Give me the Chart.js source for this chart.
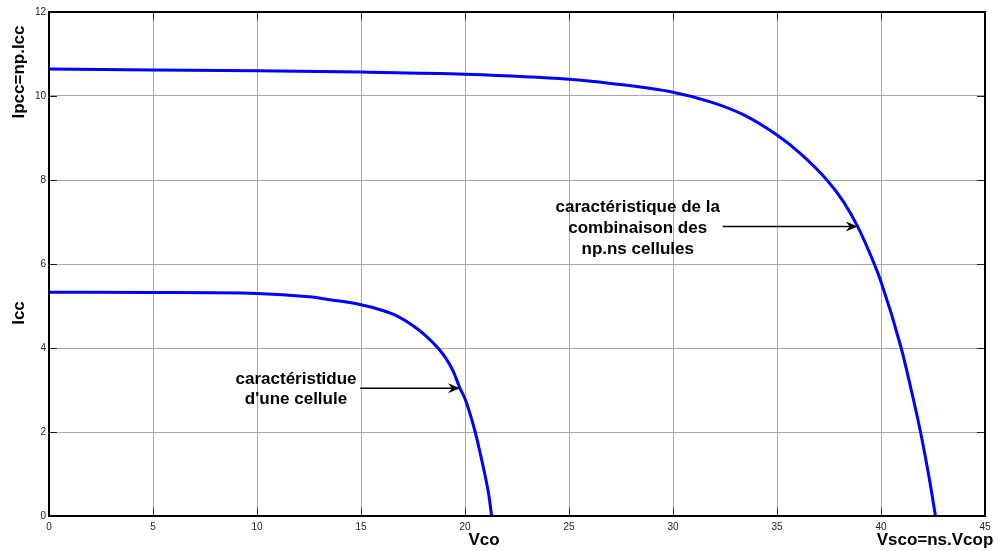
<!DOCTYPE html>
<html>
<head>
<meta charset="utf-8">
<script src="https://cdn.jsdelivr.net/npm/chart.js@4/dist/chart.umd.min.js"></script>
<style>
  html, body { margin: 0; padding: 0; background: #fff; }
  #wrap { width: 999px; height: 551px; }
</style>
</head>
<body>
<div id="wrap"><canvas id="ivChart" width="999" height="551"></canvas></div>
<script>
// I-V characteristic of a single cell
var cellV = [0, 5, 10, 12.5, 13.5, 15, 16, 16.7, 17.5, 18.05, 18.7, 19.1, 19.44, 19.76, 20.0, 20.49, 20.75, 20.95, 21.15, 21.28];
var cellI = [5.33, 5.32, 5.30, 5.22, 5.15, 5.03, 4.90, 4.77, 4.53, 4.32, 4.0, 3.74, 3.44, 3.04, 2.79, 2.0, 1.45, 1.0, 0.48, 0];

// I-V characteristic of the np x ns array
var arrayV = [0, 5, 10, 15, 20, 25, 27, 30, 31.8, 33.4, 35, 36.1, 37.4, 38.2, 38.88, 39.5, 40, 40.97, 41.5, 41.9, 42.3, 42.62];
var arrayI = [10.64, 10.62, 10.60, 10.57, 10.52, 10.40, 10.30, 10.09, 9.86, 9.55, 9.07, 8.64, 8.0, 7.48, 6.89, 6.21, 5.58, 4.0, 2.9, 2.0, 0.95, 0];

var xTicks = [0, 5, 10, 15, 20, 25, 30, 35, 40, 45];
var yTicks = [0, 2, 4, 6, 8, 10, 12];

function toPoints(xs, ys) {
    var pts = [];
    for (var i = 0; i < xs.length; i++) pts.push({x: xs[i], y: ys[i]});
    return pts;
}

var BOLD = 'bold 17px "Liberation Sans", Arial, sans-serif';

// arrow annotations: tip on the curve (data units), text placed relative to the tip
var notes = [
    {tipX: 19.76, tipY: 3.04, tail: -100, textDx: -164, lines: ['caractéristidue', "d'une cellule"], lineDy: [-9, 11]},
    {tipX: 38.88, tipY: 6.89, tail: -135, textDx: -220, lines: ['caractéristique de la', 'combinaison des', 'np.ns cellules'], lineDy: [-19, 2, 23]}
];

var framePlugin = {
    id: 'frame',
    afterDraw: function(chart) {
        var ctx = chart.ctx, a = chart.chartArea;
        var xs = chart.scales.x, ys = chart.scales.y;
        ctx.save();
        // inner tick marks on all four sides
        ctx.strokeStyle = '#222';
        ctx.lineWidth = 1;
        ctx.beginPath();
        xTicks.forEach(function(v) {
            var px = Math.round(xs.getPixelForValue(v)) + 0.5;
            ctx.moveTo(px, a.bottom); ctx.lineTo(px, a.bottom - 8);
            ctx.moveTo(px, a.top); ctx.lineTo(px, a.top + 8);
        });
        yTicks.forEach(function(v) {
            var py = Math.round(ys.getPixelForValue(v)) + 0.5;
            ctx.moveTo(a.left, py); ctx.lineTo(a.left + 8, py);
            ctx.moveTo(a.right, py); ctx.lineTo(a.right - 8, py);
        });
        ctx.stroke();
        // box
        ctx.strokeStyle = '#000';
        ctx.lineWidth = 2;
        ctx.strokeRect(a.left, a.top, a.right - a.left, a.bottom - a.top);

        // axis titles
        ctx.fillStyle = '#000';
        ctx.font = BOLD;
        ctx.textAlign = 'center';
        ctx.textBaseline = 'middle';
        ctx.fillText('Vco', 484, 540);
        ctx.fillText('Vsco=ns.Vcop', 935, 540);
        [['Ipcc=np.Icc', 72], ['Icc', 313]].forEach(function(t) {
            ctx.save();
            ctx.translate(19, t[1]);
            ctx.rotate(-Math.PI / 2);
            ctx.fillText(t[0], 0, 0);
            ctx.restore();
        });

        // annotations with arrows
        notes.forEach(function(n) {
            var tx = xs.getPixelForValue(n.tipX), ty = ys.getPixelForValue(n.tipY);
            ctx.strokeStyle = '#000';
            ctx.lineWidth = 1.5;
            ctx.beginPath();
            ctx.moveTo(tx + n.tail, ty);
            ctx.lineTo(tx - 6, ty);
            ctx.stroke();
            ctx.beginPath();
            ctx.moveTo(tx, ty);
            ctx.lineTo(tx - 12, ty - 5);
            ctx.lineTo(tx - 8, ty);
            ctx.lineTo(tx - 12, ty + 5);
            ctx.closePath();
            ctx.fill();
            ctx.font = BOLD;
            ctx.textAlign = 'center';
            n.lines.forEach(function(s, i) {
                ctx.fillText(s, tx + n.textDx, ty + n.lineDy[i]);
            });
        });
        ctx.restore();
    }
};

var ctx = document.getElementById('ivChart').getContext('2d');
var ivChart = new Chart(ctx, {
    type: 'scatter',
    data: {
        datasets: [{
            data: toPoints(cellV, cellI),
            showLine: true,
            borderColor: '#0000ff',
            borderWidth: 3,
            pointRadius: 0,
            cubicInterpolationMode: 'monotone'
        }, {
            data: toPoints(arrayV, arrayI),
            showLine: true,
            borderColor: '#0000ff',
            borderWidth: 3,
            pointRadius: 0,
            cubicInterpolationMode: 'monotone'
        }]
    },
    options: {
        responsive: false,
        animation: false,
        layout: {padding: {top: 12, right: 14, left: 0, bottom: 0}},
        plugins: {legend: {display: false}, tooltip: {enabled: false}},
        scales: {
            x: {
                type: 'linear',
                min: 0, max: 45,
                afterFit: function(s) { s.height = 35; },
                afterBuildTicks: function(s) { s.ticks = xTicks.map(function(v) { return {value: v}; }); },
                grid: {color: '#a8a8a8', lineWidth: 1, drawTicks: false},
                border: {display: false},
                ticks: {padding: 5, color: '#222', font: {size: 10, family: '"Liberation Sans", Arial, sans-serif'}}
            },
            y: {
                type: 'linear',
                min: 0, max: 12,
                afterFit: function(s) { s.width = 49; },
                afterBuildTicks: function(s) { s.ticks = yTicks.map(function(v) { return {value: v}; }); },
                grid: {color: '#a8a8a8', lineWidth: 1, drawTicks: false},
                border: {display: false},
                ticks: {padding: 3, color: '#222', font: {size: 10, family: '"Liberation Sans", Arial, sans-serif'}}
            }
        }
    },
    plugins: [framePlugin]
});
</script>
</body>
</html>
